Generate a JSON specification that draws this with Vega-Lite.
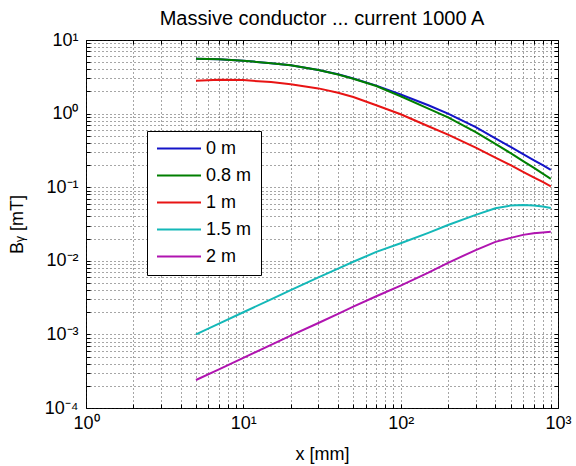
{
  "$schema": "https://vega.github.io/schema/vega-lite/v6.json",
  "width": 472,
  "height": 368,
  "autosize": {"type": "none"},
  "padding": {"left": 86, "top": 40, "right": 18, "bottom": 58},
  "background": "white",
  "config": {
    "font": "Liberation Sans, Arial, sans-serif",
    "view": {"stroke": "black", "strokeWidth": 1},
    "axis": {
      "domain": false,
      "grid": true,
      "gridColor": "#222",
      "gridDash": [1, 3],
      "gridWidth": 1,
      "gridOpacity": 0.8,
      "tickColor": "black",
      "tickSize": -4,
      "labelColor": "black",
      "labelFontSize": 18,
      "labelOverlap": false,
      "labelFlush": false,
      "titleColor": "black",
      "titleFontWeight": "normal",
      "titleFontSize": 18
    }
  },
  "title": {
    "text": "Massive conductor ... current 1000 A",
    "fontSize": 20,
    "fontWeight": "normal",
    "color": "black",
    "anchor": "middle",
    "offset": 2
  },
  "data": {
    "values": [
      {"x": 5, "B": 5.55, "s": "0 m"}, {"x": 7, "B": 5.48, "s": "0 m"}, {"x": 10, "B": 5.22, "s": "0 m"},
      {"x": 15, "B": 4.85, "s": "0 m"}, {"x": 20, "B": 4.55, "s": "0 m"}, {"x": 30, "B": 3.92, "s": "0 m"},
      {"x": 40, "B": 3.42, "s": "0 m"}, {"x": 50, "B": 3.0, "s": "0 m"}, {"x": 70, "B": 2.4, "s": "0 m"},
      {"x": 100, "B": 1.82, "s": "0 m"}, {"x": 150, "B": 1.3, "s": "0 m"}, {"x": 200, "B": 1.0, "s": "0 m"},
      {"x": 300, "B": 0.653, "s": "0 m"}, {"x": 400, "B": 0.46, "s": "0 m"}, {"x": 500, "B": 0.352, "s": "0 m"},
      {"x": 600, "B": 0.282, "s": "0 m"}, {"x": 700, "B": 0.234, "s": "0 m"}, {"x": 800, "B": 0.2, "s": "0 m"},
      {"x": 900, "B": 0.172, "s": "0 m"},

      {"x": 5, "B": 5.55, "s": "0.8 m"}, {"x": 7, "B": 5.48, "s": "0.8 m"}, {"x": 10, "B": 5.22, "s": "0.8 m"},
      {"x": 15, "B": 4.85, "s": "0.8 m"}, {"x": 20, "B": 4.55, "s": "0.8 m"}, {"x": 30, "B": 3.92, "s": "0.8 m"},
      {"x": 40, "B": 3.4, "s": "0.8 m"}, {"x": 50, "B": 2.97, "s": "0.8 m"}, {"x": 70, "B": 2.37, "s": "0.8 m"},
      {"x": 100, "B": 1.72, "s": "0.8 m"}, {"x": 150, "B": 1.17, "s": "0.8 m"}, {"x": 200, "B": 0.888, "s": "0.8 m"},
      {"x": 300, "B": 0.56, "s": "0.8 m"}, {"x": 400, "B": 0.387, "s": "0.8 m"}, {"x": 500, "B": 0.29, "s": "0.8 m"},
      {"x": 600, "B": 0.226, "s": "0.8 m"}, {"x": 700, "B": 0.184, "s": "0.8 m"}, {"x": 800, "B": 0.153, "s": "0.8 m"},
      {"x": 900, "B": 0.13, "s": "0.8 m"},

      {"x": 5, "B": 2.8, "s": "1 m"}, {"x": 7, "B": 2.88, "s": "1 m"}, {"x": 10, "B": 2.85, "s": "1 m"},
      {"x": 15, "B": 2.68, "s": "1 m"}, {"x": 20, "B": 2.5, "s": "1 m"}, {"x": 30, "B": 2.2, "s": "1 m"},
      {"x": 40, "B": 1.92, "s": "1 m"}, {"x": 50, "B": 1.68, "s": "1 m"}, {"x": 70, "B": 1.3, "s": "1 m"},
      {"x": 100, "B": 0.98, "s": "1 m"}, {"x": 150, "B": 0.674, "s": "1 m"}, {"x": 200, "B": 0.518, "s": "1 m"},
      {"x": 300, "B": 0.344, "s": "1 m"}, {"x": 400, "B": 0.252, "s": "1 m"}, {"x": 500, "B": 0.199, "s": "1 m"},
      {"x": 600, "B": 0.162, "s": "1 m"}, {"x": 700, "B": 0.136, "s": "1 m"}, {"x": 800, "B": 0.118, "s": "1 m"},
      {"x": 900, "B": 0.103, "s": "1 m"},

      {"x": 5, "B": 0.001, "s": "1.5 m"}, {"x": 7, "B": 0.0014, "s": "1.5 m"}, {"x": 10, "B": 0.002, "s": "1.5 m"},
      {"x": 15, "B": 0.003, "s": "1.5 m"}, {"x": 20, "B": 0.004, "s": "1.5 m"}, {"x": 30, "B": 0.00595, "s": "1.5 m"},
      {"x": 40, "B": 0.00785, "s": "1.5 m"}, {"x": 50, "B": 0.0097, "s": "1.5 m"}, {"x": 70, "B": 0.0132, "s": "1.5 m"},
      {"x": 100, "B": 0.0173, "s": "1.5 m"}, {"x": 150, "B": 0.024, "s": "1.5 m"}, {"x": 200, "B": 0.0307, "s": "1.5 m"},
      {"x": 300, "B": 0.0421, "s": "1.5 m"}, {"x": 400, "B": 0.0518, "s": "1.5 m"}, {"x": 500, "B": 0.0563, "s": "1.5 m"},
      {"x": 600, "B": 0.0575, "s": "1.5 m"}, {"x": 700, "B": 0.0566, "s": "1.5 m"}, {"x": 800, "B": 0.0545, "s": "1.5 m"},
      {"x": 900, "B": 0.052, "s": "1.5 m"},

      {"x": 5, "B": 0.00024, "s": "2 m"}, {"x": 7, "B": 0.000335, "s": "2 m"}, {"x": 10, "B": 0.00048, "s": "2 m"},
      {"x": 15, "B": 0.00072, "s": "2 m"}, {"x": 20, "B": 0.00096, "s": "2 m"}, {"x": 30, "B": 0.00143, "s": "2 m"},
      {"x": 40, "B": 0.0019, "s": "2 m"}, {"x": 50, "B": 0.00238, "s": "2 m"}, {"x": 70, "B": 0.0033, "s": "2 m"},
      {"x": 100, "B": 0.0046, "s": "2 m"}, {"x": 150, "B": 0.0069, "s": "2 m"}, {"x": 200, "B": 0.0094, "s": "2 m"},
      {"x": 300, "B": 0.014, "s": "2 m"}, {"x": 400, "B": 0.0181, "s": "2 m"}, {"x": 500, "B": 0.0205, "s": "2 m"},
      {"x": 600, "B": 0.0225, "s": "2 m"}, {"x": 700, "B": 0.0236, "s": "2 m"}, {"x": 800, "B": 0.0243, "s": "2 m"},
      {"x": 900, "B": 0.0248, "s": "2 m"}
    ]
  },
  "layer": [
    {
      "mark": {"type": "line", "strokeWidth": 2, "clip": true},
      "encoding": {
        "x": {
          "field": "x",
          "type": "quantitative",
          "scale": {"type": "log", "domain": [1, 1000], "nice": false},
          "axis": {
            "orient": "bottom",
            "title": "x [mm]",
            "titlePadding": 13,
            "labelPadding": 10,
            "labelDx": 3,
            "values": [1, 2, 3, 4, 5, 6, 7, 8, 9, 10, 20, 30, 40, 50, 60, 70, 80, 90, 100, 200, 300, 400, 500, 600, 700, 800, 900, 1000],
            "labelExpr": "datum.value == 1 ? '10⁰' : datum.value == 10 ? '10¹' : datum.value == 100 ? '10²' : datum.value == 1000 ? '10³' : ''"
          }
        },
        "y": {
          "field": "B",
          "type": "quantitative",
          "scale": {"type": "log", "domain": [0.0001, 10], "nice": false},
          "axis": {
            "orient": "left",
            "title": "Bᵧ [mT]",
            "titlePadding": 18,
            "labelPadding": 12,
            "values": [0.0001, 0.0002, 0.0003, 0.0004, 0.0005, 0.0006, 0.0007, 0.0008, 0.0009,
                       0.001, 0.002, 0.003, 0.004, 0.005, 0.006, 0.007, 0.008, 0.009,
                       0.01, 0.02, 0.03, 0.04, 0.05, 0.06, 0.07, 0.08, 0.09,
                       0.1, 0.2, 0.3, 0.4, 0.5, 0.6, 0.7, 0.8, 0.9,
                       1, 2, 3, 4, 5, 6, 7, 8, 9, 10],
            "labelExpr": "datum.value == 0.0001 ? '10⁻⁴' : datum.value == 0.001 ? '10⁻³' : datum.value == 0.01 ? '10⁻²' : datum.value == 0.1 ? '10⁻¹' : datum.value == 1 ? '10⁰' : datum.value == 10 ? '10¹' : ''"
          }
        },
        "color": {
          "field": "s",
          "type": "nominal",
          "scale": {
            "domain": ["0 m", "0.8 m", "1 m", "1.5 m", "2 m"],
            "range": ["#1414c8", "#007f00", "#e81414", "#14b8b8", "#b014b0"]
          },
          "legend": {
            "title": null,
            "orient": "none",
            "legendX": 61,
            "legendY": 91,
            "symbolType": "stroke",
            "symbolSize": 1936,
            "symbolStrokeWidth": 2,
            "clipHeight": 17,
            "labelFontSize": 18,
            "labelColor": "black",
            "labelOffset": 4,
            "fillColor": "white",
            "strokeColor": "black",
            "padding": 9,
            "rowPadding": 8,
            "cornerRadius": 0
          }
        }
      }
    },
    {
      "mark": {"type": "point", "opacity": 0},
      "encoding": {
        "x": {
          "field": "x",
          "type": "quantitative",
          "axis": {
            "orient": "top",
            "title": null,
            "labels": false,
            "grid": false,
            "values": [1, 2, 3, 4, 5, 6, 7, 8, 9, 10, 20, 30, 40, 50, 60, 70, 80, 90, 100, 200, 300, 400, 500, 600, 700, 800, 900, 1000]
          }
        },
        "y": {
          "field": "B",
          "type": "quantitative",
          "axis": {
            "orient": "right",
            "title": null,
            "labels": false,
            "grid": false,
            "values": [0.0001, 0.0002, 0.0003, 0.0004, 0.0005, 0.0006, 0.0007, 0.0008, 0.0009,
                       0.001, 0.002, 0.003, 0.004, 0.005, 0.006, 0.007, 0.008, 0.009,
                       0.01, 0.02, 0.03, 0.04, 0.05, 0.06, 0.07, 0.08, 0.09,
                       0.1, 0.2, 0.3, 0.4, 0.5, 0.6, 0.7, 0.8, 0.9,
                       1, 2, 3, 4, 5, 6, 7, 8, 9, 10]
          }
        }
      }
    }
  ],
  "resolve": {"axis": {"x": "independent", "y": "independent"}}
}
